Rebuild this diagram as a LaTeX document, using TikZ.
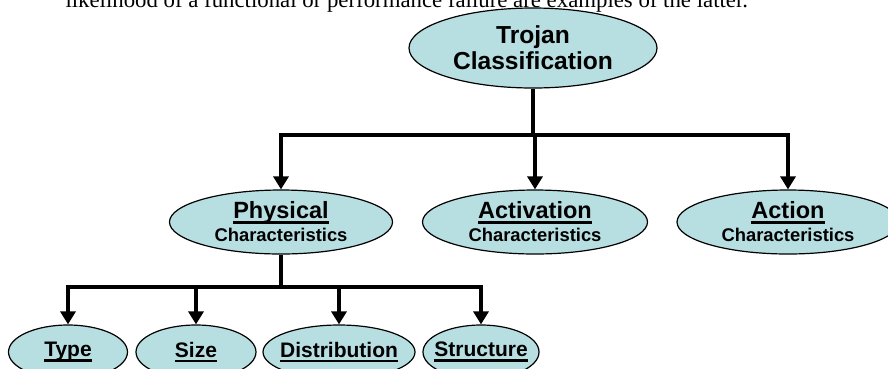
\documentclass[tikz,border=0pt]{standalone}
\usepackage{fontspec}
\setmainfont{Liberation Serif}
\newfontfamily\arial{Liberation Sans}
\usetikzlibrary{arrows.meta,shapes.geometric}
\definecolor{ovalfill}{RGB}{183,222,225}
\newcommand\ulbox[1]{\setbox0\hbox{#1}\dp0=0pt\vtop{\box0\kern2.5pt\hrule height 2.2pt}}
\newcommand\nowidth[1]{\makebox[0pt]{#1}}

\begin{document}
\begin{tikzpicture}[x=1pt, y=-1pt,
		oval/.style={ellipse, draw, line width=1.2pt, fill=ovalfill, inner sep=0pt, align=center, font=\arial\bfseries},
		link/.style={line width=3.6pt},
		tip/.style={line width=3.6pt, -{Triangle[width=15pt,length=13pt]}}]
		%%%%% START %%%%%
		
		\useasboundingbox (0, 0) rectangle (888, 368);
		\clip (0, 0) rectangle (888, 368);
		
		\node[anchor=base west, font=\fontsize{22.8}{26}\selectfont] (intro) at (62, 7) {likelihood of a functional or performance failure are examples of the latter.};
		
		\node[oval, minimum width=248pt, minimum height=80pt, font=\arial\bfseries\fontsize{24.6}{26}\selectfont] (troj) at (533, 48) {\nowidth{Trojan}\\\nowidth{Classification}};
		
		\node[oval, minimum width=223pt, minimum height=64pt, font=\arial\bfseries\fontsize{18.4}{23}\selectfont] (phys) at (281, 222) {\nowidth{\fontsize{23.5}{23}\selectfont\ulbox{Physical}}\\\nowidth{Characteristics}};
		\node[oval, minimum width=225pt, minimum height=64pt, font=\arial\bfseries\fontsize{18.4}{23}\selectfont] (actv) at (535, 222) {\nowidth{\fontsize{23.5}{23}\selectfont\ulbox{Activation}}\\\nowidth{Characteristics}};
		\node[oval, minimum width=222pt, minimum height=64pt, font=\arial\bfseries\fontsize{18.4}{23}\selectfont] (actn) at (788, 222) {\nowidth{\fontsize{23.5}{23}\selectfont\ulbox{Action}}\\\nowidth{Characteristics}};
		
		\node[oval, minimum width=119pt, minimum height=54pt, font=\arial\bfseries\fontsize{21}{24}\selectfont] (type) at (68, 352) {\nowidth{\ulbox{Type}}};
		\node[oval, minimum width=120pt, minimum height=54pt, font=\arial\bfseries\fontsize{21}{24}\selectfont] (size) at (196, 352) {\nowidth{\ulbox{Size}}};
		\node[oval, minimum width=152pt, minimum height=54pt, font=\arial\bfseries\fontsize{21}{24}\selectfont] (dist) at (339, 352) {\nowidth{\ulbox{Distribution}}};
		\node[oval, minimum width=116pt, minimum height=54pt, font=\arial\bfseries\fontsize{21}{24}\selectfont] (struc) at (481, 352) {\nowidth{\ulbox{Structure}}};
		
		% first level
		\coordinate (hub) at (533, 135);
		\draw[link] (troj.south) -- (hub);
		\draw[tip] (hub) -| (phys.north);
		\draw[tip] (hub) -| (actv.north);
		\draw[tip] (hub) -| (actn.north);
		
		% second level
		\coordinate (hub2) at (281, 287);
		\draw[link] (phys.south) -- (hub2);
		\draw[tip] (hub2) -| (type.north);
		\draw[tip] (hub2) -| (size.north);
		\draw[tip] (hub2) -| (dist.north);
		\draw[tip] (hub2) -| (struc.north);
		
		%%%%% END %%%%%
	\end{tikzpicture}
\end{document}
